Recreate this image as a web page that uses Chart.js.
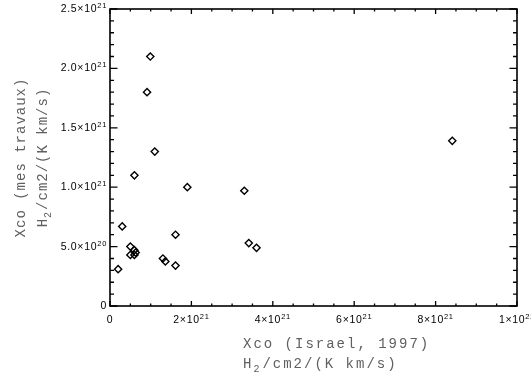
<!DOCTYPE html>
<html>
<head>
<meta charset="utf-8">
<script src="https://cdn.jsdelivr.net/npm/chart.js@4/dist/chart.umd.min.js"></script>
<style>
  html, body { margin: 0; padding: 0; background: #fff; }
  #wrap { width: 531px; height: 381px; }
</style>
</head>
<body>
<div id="wrap"><canvas id="myChart" width="531" height="381"></canvas></div>
<script>

// Xco values, Israel 1997 (x) vs mes travaux (y), in H2/cm2/(K km/s)
const xIsrael = [
    0.99e21, 0.91e21, 1.10e21, 0.60e21, 1.90e21, 3.30e21, 0.30e21, 1.61e21,
    0.50e21, 3.41e21, 3.60e21, 0.60e21, 0.50e21, 0.60e21, 0.63e21,
    1.30e21, 1.36e21, 1.61e21, 0.20e21, 8.41e21
];
const yTravaux = [
    2.10e21, 1.80e21, 1.30e21, 1.10e21, 1.00e21, 0.97e21, 0.67e21, 0.60e21,
    0.50e21, 0.53e21, 0.49e21, 0.47e21, 0.43e21, 0.43e21, 0.45e21,
    0.40e21, 0.375e21, 0.34e21, 0.31e21, 1.39e21
];

const xTickValues = [0, 2e21, 4e21, 6e21, 8e21, 1e22];
const xTickMant = ['0', '2×10', '4×10', '6×10', '8×10', '1×10'];
const xTickExp = ['', '21', '21', '21', '21', '22'];

const yTickValues = [0, 0.5e21, 1.0e21, 1.5e21, 2.0e21, 2.5e21];
const yTickMant = ['0', '5.0×10', '1.0×10', '1.5×10', '2.0×10', '2.5×10'];
const yTickExp = ['', '20', '21', '21', '21', '21'];

const xMinorStep = 0.5e21;
const yMinorStep = 0.1e21;

const xTitle = 'Xco (Israel, 1997)';
const yTitle = 'Xco (mes travaux)';
const unitRest = '/cm2/(K km/s)';

const points = xIsrael.map((x, i) => ({ x: x, y: yTravaux[i] }));

const tickFont = '10.5px "Liberation Sans", Arial, sans-serif';
const expFont = '7.5px "Liberation Sans", Arial, sans-serif';
const monoFont = '14px "Courier New", "Nimbus Mono PS", FreeMono, "Liberation Mono", monospace';
const subFont = '10px "Courier New", "Nimbus Mono PS", FreeMono, "Liberation Mono", monospace';

function sciLabel(ctx, mant, exp, x, y, align) {
    ctx.letterSpacing = '0.7px';
    ctx.font = tickFont;
    const w1 = ctx.measureText(mant).width;
    ctx.font = expFont;
    const w2 = exp ? ctx.measureText(exp).width : 0;
    let x0 = x;
    if (align === 'center') x0 = x - (w1 + w2) / 2;
    if (align === 'right') x0 = x - (w1 + w2);
    ctx.textAlign = 'left';
    ctx.textBaseline = 'alphabetic';
    ctx.font = tickFont;
    ctx.fillText(mant, x0, y);
    if (exp) {
        ctx.font = expFont;
        ctx.fillText(exp, x0 + w1, y - 4);
    }
}

// H_2/cm2/(K km/s) starting at x (baseline y)
function unitLabel(ctx, x, y, spacing) {
    ctx.letterSpacing = spacing + 'px';
    ctx.font = monoFont;
    ctx.fillText('H', x, y);
    let w = ctx.measureText('H').width;
    ctx.font = subFont;
    ctx.fillText('2', x + w, y + 4);
    w += ctx.measureText('2').width + 1;
    ctx.font = monoFont;
    ctx.fillText(unitRest, x + w, y);
    w += ctx.measureText(unitRest).width;
    return w;
}

function unitWidth(ctx, spacing) {
    ctx.letterSpacing = spacing + 'px';
    ctx.font = monoFont;
    let w = ctx.measureText('H').width + ctx.measureText(unitRest).width;
    ctx.font = subFont;
    w += ctx.measureText('2').width + 1;
    return w;
}

const idlAxes = {
    id: 'idlAxes',
    afterDraw(chart) {
        const ctx = chart.ctx;
        const xs = chart.scales.x;
        const ys = chart.scales.y;
        const a = chart.chartArea;
        ctx.save();
        ctx.strokeStyle = '#000';
        ctx.fillStyle = '#000';
        ctx.lineWidth = 1.6;
        ctx.strokeRect(a.left, a.top, a.right - a.left, a.bottom - a.top);

        ctx.lineWidth = 1.3;
        ctx.beginPath();
        // x ticks, bottom and top
        for (let v = 0; v <= xs.max + 1; v += xMinorStep) {
            const px = xs.getPixelForValue(v);
            const major = Math.abs(v / 2e21 - Math.round(v / 2e21)) < 1e-6;
            const len = major ? 5 : 2.5;
            ctx.moveTo(px, a.bottom); ctx.lineTo(px, a.bottom - len);
            ctx.moveTo(px, a.top); ctx.lineTo(px, a.top + len);
        }
        // y ticks, left and right
        for (let v = 0; v <= ys.max + 1; v += yMinorStep) {
            const py = ys.getPixelForValue(v);
            const major = Math.abs(v / 0.5e21 - Math.round(v / 0.5e21)) < 1e-6;
            const len = major ? 7.5 : 4;
            ctx.moveTo(a.left, py); ctx.lineTo(a.left + len, py);
            ctx.moveTo(a.right, py); ctx.lineTo(a.right - len, py);
        }
        ctx.stroke();

        // tick labels
        xTickValues.forEach((v, i) => {
            sciLabel(ctx, xTickMant[i], xTickExp[i], xs.getPixelForValue(v), a.bottom + 17, 'center');
        });
        yTickValues.forEach((v, i) => {
            sciLabel(ctx, yTickMant[i], yTickExp[i], a.left - 3, ys.getPixelForValue(v) + 3, 'right');
        });

        // axis titles
        ctx.fillStyle = '#606060';
        ctx.textAlign = 'left';
        ctx.textBaseline = 'alphabetic';
        ctx.letterSpacing = '2px';
        ctx.font = monoFont;
        ctx.fillText(xTitle, 243, 348);
        unitLabel(ctx, 243, 368, 2);

        const cy = (a.top + a.bottom) / 2;
        ctx.save();
        ctx.translate(25, cy);
        ctx.rotate(-Math.PI / 2);
        ctx.letterSpacing = '1px';
        ctx.font = monoFont;
        const tw = ctx.measureText(yTitle).width;
        ctx.fillText(yTitle, -tw / 2, 0);
        ctx.restore();

        ctx.save();
        ctx.translate(47, cy);
        ctx.rotate(-Math.PI / 2);
        const uw = unitWidth(ctx, 1);
        unitLabel(ctx, -uw / 2, 0, 1);
        ctx.restore();

        ctx.restore();
    }
};

const graph01 = document.getElementById('myChart').getContext('2d');

const myChart = new Chart(graph01, {
    type: 'scatter',
    data: {
        datasets: [{
            label: 'Xco',
            data: points,
            pointStyle: 'rectRot',
            radius: 3.6,
            borderColor: '#000',
            backgroundColor: 'rgba(0,0,0,0)',
            borderWidth: 1.4,
            clip: false,
        }]
    },
    options: {
        responsive: false,
        animation: false,
        events: [],
        layout: {
            padding: { left: 110, top: 9, right: 14, bottom: 75 }
        },
        plugins: {
            legend: { display: false },
            tooltip: { enabled: false },
            title: { display: false }
        },
        scales: {
            x: { type: 'linear', min: 0, max: 1e22, display: false },
            y: { type: 'linear', min: 0, max: 2.5e21, display: false }
        }
    },
    plugins: [idlAxes]
});

</script>
</body>
</html>
